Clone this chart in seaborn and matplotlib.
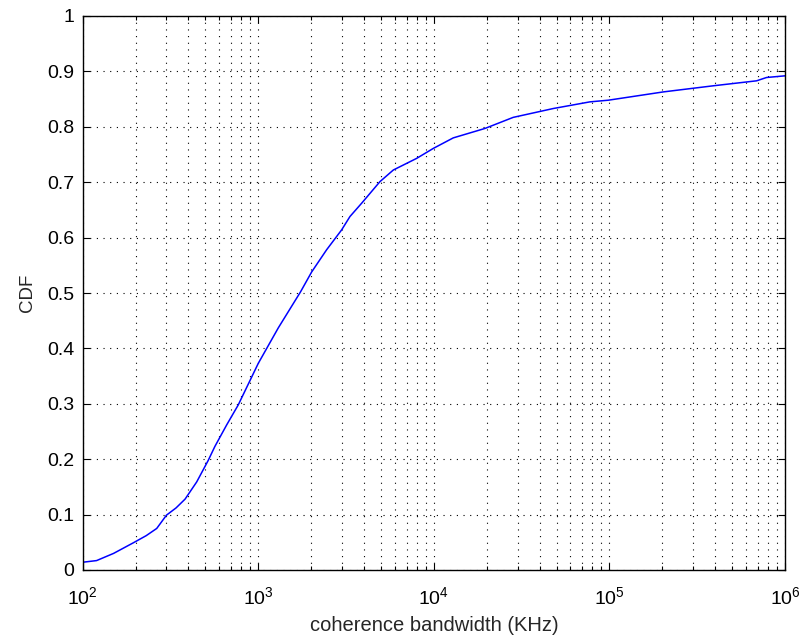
import numpy as np
import pandas as pd
import matplotlib
matplotlib.use("Agg")
import matplotlib.pyplot as plt
import seaborn as sns
from matplotlib.ticker import LogLocator, FixedLocator, FuncFormatter, NullFormatter

bandwidth_khz = [100, 120, 150, 194, 230, 264, 300, 340, 383, 446, 519, 566, 661, 769,
                 1000, 1300, 1740, 2014, 2450, 2985, 3327, 3878, 4931, 5877, 7980,
                 9930, 12900, 19540, 28300, 47900, 77400, 98500, 203000, 390000,
                 689000, 785000, 1000000]
cdf = [0.014, 0.017, 0.030, 0.049, 0.062, 0.075, 0.099, 0.112, 0.128, 0.159, 0.198,
       0.223, 0.262, 0.298, 0.373, 0.437, 0.502, 0.538, 0.578, 0.614, 0.638, 0.662,
       0.701, 0.722, 0.743, 0.761, 0.780, 0.797, 0.817, 0.833, 0.845, 0.848, 0.863,
       0.874, 0.883, 0.889, 0.892]
y_ticks = [0, 0.1, 0.2, 0.3, 0.4, 0.5, 0.6, 0.7, 0.8, 0.9, 1]
y_ticklabels = ["0", "0.1", "0.2", "0.3", "0.4", "0.5", "0.6", "0.7", "0.8", "0.9", "1"]
x_label = "coherence bandwidth (KHz)"
y_label = "CDF"

df = pd.DataFrame({"bw": bandwidth_khz, "cdf": cdf})

sns.set_style("ticks")
plt.rcParams["font.family"] = ["Liberation Sans", "DejaVu Sans"]
plt.rcParams["mathtext.fontset"] = "custom"
plt.rcParams["mathtext.rm"] = "Liberation Sans"
plt.rcParams["mathtext.it"] = "Liberation Sans"

fig = plt.figure(figsize=(7.99, 6.37), dpi=100)
ax = fig.add_axes([82.7 / 799, (637 - 570) / 637, (785 - 82.7) / 799, (570 - 16) / 637])

sns.lineplot(data=df, x="bw", y="cdf", ax=ax, color="#0000ff", linewidth=1.1)
ax.set_xscale("log")
ax.set_xlim(1e2, 1e6)
ax.set_ylim(0, 1)

ax.xaxis.set_major_locator(FixedLocator([1e2, 1e3, 1e4, 1e5, 1e6]))
ax.xaxis.set_minor_locator(LogLocator(base=10, subs=np.arange(2, 10), numticks=20))
ax.xaxis.set_major_formatter(FuncFormatter(lambda v, p: r"$\mathregular{10^{%d}}$" % int(round(np.log10(v)))))
ax.xaxis.set_minor_formatter(NullFormatter())
ax.set_yticks(y_ticks)
ax.set_yticklabels(y_ticklabels)

ax.grid(True, which="major", axis="both", color="black", linestyle=(0, (1, 5)), linewidth=0.8)
ax.grid(True, which="minor", axis="x", color="black", linestyle=(0, (1, 5)), linewidth=0.8)

ax.tick_params(which="both", direction="in", top=True, right=True, labelsize=14, colors="black")
ax.tick_params(which="major", length=5, width=0.8)
ax.tick_params(axis="x", which="major", pad=12)
ax.tick_params(axis="y", which="major", pad=6)
ax.tick_params(which="minor", length=3, width=0.8)
for s in ax.spines.values():
    s.set_visible(True)
    s.set_color("black")
    s.set_linewidth(1.0)

ax.set_xlabel(x_label, fontsize=14.5, labelpad=5)
ax.set_ylabel(y_label, fontsize=13.5, labelpad=8)

fig.savefig("out.png", dpi=100, facecolor="white")
